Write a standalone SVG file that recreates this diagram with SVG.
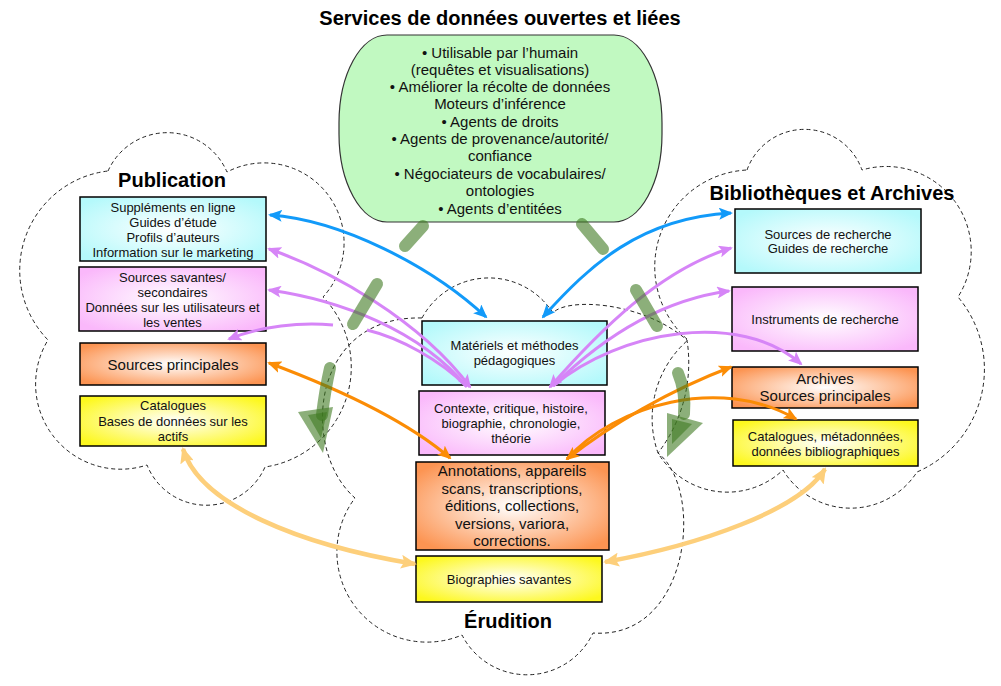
<svg xmlns="http://www.w3.org/2000/svg" width="1001" height="686" viewBox="0 0 1001 686">
<style>
.cloud{fill:none;stroke:#222;stroke-width:1;stroke-dasharray:4 3}
.box{stroke:#000;stroke-width:1.5}
.t{font-family:"Liberation Sans",Arial,Helvetica,sans-serif;font-size:13px;text-anchor:middle;fill:#111}
.t15{font-size:15px}
.h{font-family:"Liberation Sans",Arial,Helvetica,sans-serif;font-size:20px;font-weight:bold;text-anchor:middle;fill:#000}
.c{fill:none;stroke-width:3}
.blue{stroke:#129af9}
.purple{stroke:#d685f7}
.orange{stroke:#fb8c05}
.lorange{stroke:#fdcf7b;stroke-width:4.5}
.gs{fill:none;stroke:#3f7a22;stroke-opacity:.6;stroke-width:12;stroke-linecap:round}
.gh{fill:#3f7a22;fill-opacity:.6}
</style>
<defs>
<radialGradient id="gc" cx=".5" cy=".5" r=".62"><stop offset="0" stop-color="#fff"/><stop offset="1" stop-color="#b4f9fb"/></radialGradient>
<radialGradient id="gp" cx=".5" cy=".5" r=".62"><stop offset="0" stop-color="#fff"/><stop offset="1" stop-color="#fab8fb"/></radialGradient>
<radialGradient id="go" cx=".5" cy=".5" r=".62"><stop offset="0" stop-color="#fff"/><stop offset="1" stop-color="#fc9452"/></radialGradient>
<radialGradient id="gy" cx=".5" cy=".5" r=".62"><stop offset="0" stop-color="#fff"/><stop offset="1" stop-color="#fdf81e"/></radialGradient>
<marker id="mb" viewBox="0 0 14 12" refX="12" refY="6" markerWidth="14" markerHeight="12" orient="auto-start-reverse" markerUnits="userSpaceOnUse"><path d="M0,0 L14,6 L0,12 L3,6 z" fill="#129af9"/></marker>
<marker id="mp" viewBox="0 0 14 12" refX="12" refY="6" markerWidth="14" markerHeight="12" orient="auto-start-reverse" markerUnits="userSpaceOnUse"><path d="M0,0 L14,6 L0,12 L3,6 z" fill="#d685f7"/></marker>
<marker id="mo" viewBox="0 0 14 12" refX="12" refY="6" markerWidth="14" markerHeight="12" orient="auto-start-reverse" markerUnits="userSpaceOnUse"><path d="M0,0 L14,6 L0,12 L3,6 z" fill="#fb8c05"/></marker>
<marker id="ml" viewBox="0 0 16 14" refX="14" refY="7" markerWidth="16" markerHeight="14" orient="auto-start-reverse" markerUnits="userSpaceOnUse"><path d="M0,0 L16,7 L0,14 L3,7 z" fill="#fdcf7b"/></marker>
</defs>
<rect width="1001" height="686" fill="#fff"/>

<g id="clouds">
<path id="cloud-publication" class="cloud" d="M108,171 A65,65 0 0 1 227,172 A80,80 0 0 1 323,297 A101,101 0 0 1 265,467 A64,64 0 0 1 147,465 A85,85 0 0 1 48,340 A100,100 0 0 1 108,171 Z"/>
<path id="cloud-bibliotheques" class="cloud" d="M747,170 A61,61 0 0 1 862,170 A85,85 0 0 1 958,297 A112,112 0 0 1 917,472 A79,79 0 0 1 783,470 A81,81 0 0 1 658,453 A104,104 0 0 1 688,340 A97,97 0 0 1 747,170 Z"/>
<path id="cloud-erudition" class="cloud" d="M422,318 A76,76 0 0 1 553,313 C565,298 640,300 687,340 A148,148 0 0 1 658,453 C705,490 690,640 593,633 A73,73 0 0 1 462,635 A90,90 0 0 1 355,498 C300,450 310,315 422,318 Z"/>
</g>

<text class="h" x="500" y="25">Services de données ouvertes et liées</text>
<text class="h" x="172" y="187">Publication</text>
<text class="h" x="832" y="200">Bibliothèques et Archives</text>
<text class="h" x="508" y="628">Érudition</text>

<g id="services">
<rect x="339" y="35" width="323" height="187" rx="48" ry="88" fill="#c1f9c1" stroke="#333" stroke-width="1.2"/>
<text class="t t15" x="500" y="57.5">• Utilisable par l’humain</text>
<text class="t t15" x="500" y="74.5">(requêtes et visualisations)</text>
<text class="t t15" x="500" y="91.5">• Améliorer la récolte de données</text>
<text class="t t15" x="500" y="109">Moteurs d’inférence</text>
<text class="t t15" x="500" y="126.5">• Agents de droits</text>
<text class="t t15" x="500" y="143.5">• Agents de provenance/autorité/</text>
<text class="t t15" x="500" y="161">confiance</text>
<text class="t t15" x="500" y="178.5">• Négociateurs de vocabulaires/</text>
<text class="t t15" x="500" y="196">ontologies</text>
<text class="t t15" x="500" y="213.5">• Agents d’entitées</text>
</g>

<g id="pub-supplements">
<rect class="box" x="80" y="197" width="186" height="64" fill="url(#gc)"/>
<text class="t" x="173" y="211.5">Suppléments en ligne</text>
<text class="t" x="173" y="226.5">Guides d’étude</text>
<text class="t" x="173" y="241.5">Profils d’auteurs</text>
<text class="t" x="173" y="256.5">Information sur le marketing</text>
</g>
<g id="pub-sources-savantes">
<rect class="box" x="79" y="267" width="187" height="64" fill="url(#gp)"/>
<text class="t" x="172.5" y="281.5">Sources savantes/</text>
<text class="t" x="172.5" y="296.5">secondaires</text>
<text class="t" x="172.5" y="312">Données sur les utilisateurs et</text>
<text class="t" x="172.5" y="327">les ventes</text>
</g>
<g id="pub-sources-principales">
<rect class="box" x="80" y="343" width="186" height="42" fill="url(#go)"/>
<text class="t t15" x="173" y="370">Sources principales</text>
</g>
<g id="pub-catalogues">
<rect class="box" x="80" y="396" width="186" height="50" fill="url(#gy)"/>
<text class="t" x="173" y="409.5">Catalogues</text>
<text class="t" x="173" y="426">Bases de données sur les</text>
<text class="t" x="173" y="441">actifs</text>
</g>

<g id="bib-sources-recherche">
<rect class="box" x="735" y="209" width="186" height="64" fill="url(#gc)"/>
<text class="t" x="828" y="238.5">Sources de recherche</text>
<text class="t" x="828" y="253">Guides de recherche</text>
</g>
<g id="bib-instruments">
<rect class="box" x="732" y="287" width="186" height="64" fill="url(#gp)"/>
<text class="t" x="825" y="323.5">Instruments de recherche</text>
</g>
<g id="bib-archives">
<rect class="box" x="732" y="367" width="186" height="41" fill="url(#go)"/>
<text class="t t15" x="825" y="384">Archives</text>
<text class="t t15" x="825" y="401">Sources principales</text>
</g>
<g id="bib-catalogues">
<rect class="box" x="733" y="420" width="185" height="46" fill="url(#gy)"/>
<text class="t" x="825.5" y="440.5">Catalogues, métadonnées,</text>
<text class="t" x="825.5" y="455.5">données bibliographiques</text>
</g>

<g id="eru-materiels">
<rect class="box" x="422" y="321" width="185" height="64" fill="url(#gc)"/>
<text class="t" x="514.5" y="349.5">Matériels et méthodes</text>
<text class="t" x="514.5" y="364.5">pédagogiques</text>
</g>
<g id="eru-contexte">
<rect class="box" x="419" y="391" width="186" height="64" fill="url(#gp)"/>
<text class="t" x="511" y="412.5">Contexte, critique, histoire,</text>
<text class="t" x="511" y="427.5">biographie, chronologie,</text>
<text class="t" x="511" y="442.5">théorie</text>
</g>
<g id="eru-annotations">
<rect class="box" x="416" y="462" width="193" height="88" fill="url(#go)"/>
<text class="t t15" x="512" y="476">Annotations, appareils</text>
<text class="t t15" x="512" y="494">scans, transcriptions,</text>
<text class="t t15" x="512" y="511">éditions, collections,</text>
<text class="t t15" x="512" y="529">versions, variora,</text>
<text class="t t15" x="512" y="546">corrections.</text>
</g>
<g id="eru-biographies">
<rect class="box" x="416" y="556" width="186" height="46" fill="url(#gy)"/>
<text class="t" x="509" y="583.5">Biographies savantes</text>
</g>

<g id="connectors">
<path class="c blue" d="M270,215 C340,220 430,265 486,317" marker-start="url(#mb)" marker-end="url(#mb)"/>
<path class="c blue" d="M543,317 C590,265 640,218 731,213" marker-start="url(#mb)" marker-end="url(#mb)"/>

<path class="c purple" d="M269,249 C330,270 420,320 470,387" marker-start="url(#mp)" marker-end="url(#mp)"/>
<path class="c purple" d="M269,290 C340,300 420,330 467,387" marker-start="url(#mp)"/>
<path class="c purple" d="M333,325 C300,322 262,326 229,339" marker-end="url(#mp)"/>
<path class="c purple" d="M367,330 C400,338 440,360 466,386"/>
<path class="c purple" d="M550,387 C600,330 660,270 731,248" marker-start="url(#mp)" marker-end="url(#mp)"/>
<path class="c purple" d="M553,386 C600,340 660,300 729,291" marker-end="url(#mp)"/>
<path class="c purple" d="M553,386 C620,330 740,310 801,364" marker-end="url(#mp)"/>

<path class="c orange" d="M269,363 C320,382 400,415 450,458" marker-start="url(#mo)" marker-end="url(#mo)"/>
<path class="c orange" d="M567,459 C610,425 670,390 731,367" marker-start="url(#mo)" marker-end="url(#mo)"/>
<path class="c orange" d="M567,459 C615,405 720,375 796,419" marker-end="url(#mo)"/>

<path class="c lorange" d="M183,449 C200,505 300,545 415,564" marker-start="url(#ml)" marker-end="url(#ml)"/>
<path class="c lorange" d="M825,469 C800,510 700,545 605,562" marker-start="url(#ml)" marker-end="url(#ml)"/>

<path class="gs" d="M423,226 L405,246"/>
<path class="gs" d="M377,284 L353,324"/>
<path class="gs" d="M330,368 Q325,390 322,415"/>
<path class="gh" d="M298,412 L333,407 L323,453 Z"/>
<path class="gh" d="M308,415 L327,412 L321,438 Z"/>
<path class="gs" d="M582,224 L603,249"/>
<path class="gs" d="M636,290 L657,326"/>
<path class="gs" d="M678,373 Q686,392 684,414"/>
<path class="gh" d="M667,413 L703,423 L667,457 Z"/>
<path class="gh" d="M672,419 L692,424 L672,444 Z"/>
</g>
</svg>
